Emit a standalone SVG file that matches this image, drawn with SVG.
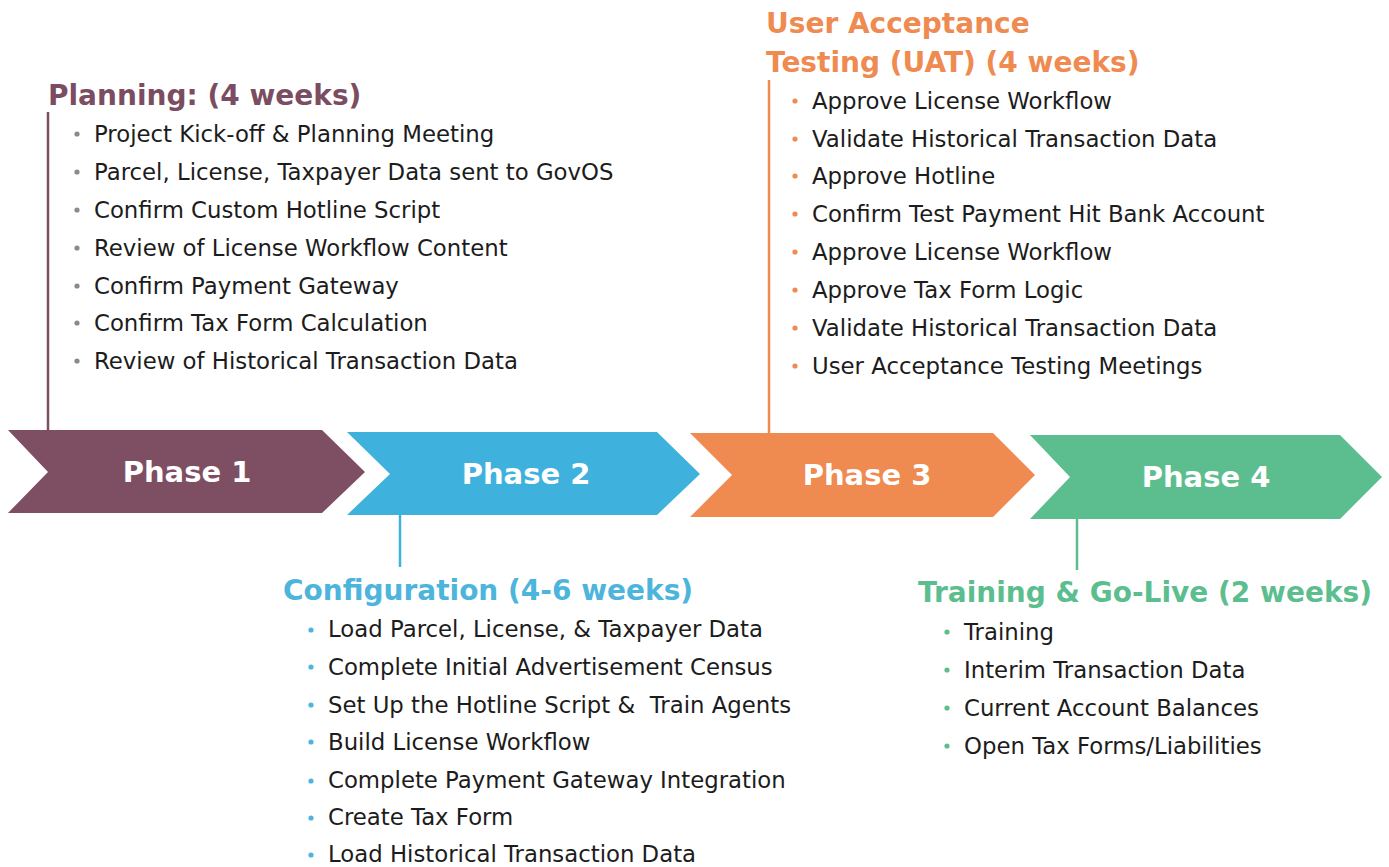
<svg xmlns="http://www.w3.org/2000/svg" width="1389" height="867" viewBox="0 0 1389 867">
<style>
.t{font-family:"DejaVu Sans","Open Sans","Liberation Sans",sans-serif;font-size:22.8px;fill:#1c1c1c}
.h{font-family:"DejaVu Sans","Open Sans","Liberation Sans",sans-serif;font-size:28px;font-weight:700}
.p{font-family:"DejaVu Sans","Open Sans","Liberation Sans",sans-serif;font-size:29px;font-weight:700;fill:#ffffff;text-anchor:middle}
.c1{fill:#7E4E63}.c2{fill:#3FB1DD}.c3{fill:#EF8A51}.c4{fill:#5CBE8E}
.ln{stroke-width:2.5;fill:none}
</style>
<rect width="1389" height="867" fill="#ffffff"/>
<g id="connectors">
<line class="ln" x1="48" y1="112" x2="48" y2="432" stroke="#7E4E63"/>
<line class="ln" x1="400" y1="514" x2="400" y2="567" stroke="#3FB1DD"/>
<line class="ln" x1="769" y1="80" x2="769" y2="435" stroke="#EF8A51"/>
<line class="ln" x1="1077" y1="518" x2="1077" y2="570" stroke="#5CBE8E"/>
</g>
<g id="phase1">
<polygon class="c1" points="8,430 322,430 365,472 322,513 8,513 48,472"/>
<text class="p" x="187" y="482">Phase 1</text>
</g>
<g id="phase2">
<polygon class="c2" points="347,432 657,432 700,474 657,515 347,515 390,474"/>
<text class="p" x="526" y="484">Phase 2</text>
</g>
<g id="phase3">
<polygon class="c3" points="690,433 993,433 1035,475 993,517 690,517 732,475"/>
<text class="p" x="867" y="485">Phase 3</text>
</g>
<g id="phase4">
<polygon class="c4" points="1030,435 1340,435 1382,477 1340,519 1030,519 1070,477"/>
<text class="p" x="1206" y="487">Phase 4</text>
</g>
<g id="planning">
<text class="h" x="48" y="105" fill="#7B4D62">Planning: (4 weeks)</text>
<g fill="#8a8a8a">
<circle cx="77" cy="134" r="2.6"/><circle cx="77" cy="172" r="2.6"/><circle cx="77" cy="210" r="2.6"/><circle cx="77" cy="248" r="2.6"/><circle cx="77" cy="286" r="2.6"/><circle cx="77" cy="323" r="2.6"/><circle cx="77" cy="361" r="2.6"/>
</g>
<text class="t" x="94" y="142">Project Kick-off &amp; Planning Meeting</text>
<text class="t" x="94" y="180">Parcel, License, Taxpayer Data sent to GovOS</text>
<text class="t" x="94" y="218">Confirm Custom Hotline Script</text>
<text class="t" x="94" y="256">Review of License Workflow Content</text>
<text class="t" x="94" y="294">Confirm Payment Gateway</text>
<text class="t" x="94" y="331">Confirm Tax Form Calculation</text>
<text class="t" x="94" y="369">Review of Historical Transaction Data</text>
</g>
<g id="uat">
<text class="h" x="766" y="33" fill="#EF8A51">User Acceptance</text>
<text class="h" x="766" y="72" fill="#EF8A51">Testing (UAT) (4 weeks)</text>
<g fill="#EF8A51">
<circle cx="795" cy="101" r="2.6"/><circle cx="795" cy="139" r="2.6"/><circle cx="795" cy="176" r="2.6"/><circle cx="795" cy="214" r="2.6"/><circle cx="795" cy="252" r="2.6"/><circle cx="795" cy="290" r="2.6"/><circle cx="795" cy="328" r="2.6"/><circle cx="795" cy="366" r="2.6"/>
</g>
<text class="t" x="812" y="109">Approve License Workflow</text>
<text class="t" x="812" y="147">Validate Historical Transaction Data</text>
<text class="t" x="812" y="184">Approve Hotline</text>
<text class="t" x="812" y="222">Confirm Test Payment Hit Bank Account</text>
<text class="t" x="812" y="260">Approve License Workflow</text>
<text class="t" x="812" y="298">Approve Tax Form Logic</text>
<text class="t" x="812" y="336">Validate Historical Transaction Data</text>
<text class="t" x="812" y="374">User Acceptance Testing Meetings</text>
</g>
<g id="configuration">
<text class="h" x="283" y="600" fill="#4DB5DC">Configuration (4-6 weeks)</text>
<g fill="#4DB5DC">
<circle cx="311" cy="630" r="2.6"/><circle cx="311" cy="667" r="2.6"/><circle cx="311" cy="705" r="2.6"/><circle cx="311" cy="742" r="2.6"/><circle cx="311" cy="781" r="2.6"/><circle cx="311" cy="818" r="2.6"/><circle cx="311" cy="855" r="2.6"/>
</g>
<text class="t" x="328" y="637">Load Parcel, License, &amp; Taxpayer Data</text>
<text class="t" x="328" y="675">Complete Initial Advertisement Census</text>
<text class="t" x="328" y="713" xml:space="preserve">Set Up the Hotline Script &amp;  Train Agents</text>
<text class="t" x="328" y="750">Build License Workflow</text>
<text class="t" x="328" y="788">Complete Payment Gateway Integration</text>
<text class="t" x="328" y="825">Create Tax Form</text>
<text class="t" x="328" y="862">Load Historical Transaction Data</text>
</g>
<g id="training">
<text class="h" x="918" y="602" fill="#5CBE8E">Training &amp; Go-Live (2 weeks)</text>
<g fill="#5CBE8E">
<circle cx="947" cy="632" r="2.6"/><circle cx="947" cy="670" r="2.6"/><circle cx="947" cy="708" r="2.6"/><circle cx="947" cy="746" r="2.6"/>
</g>
<text class="t" x="964" y="640">Training</text>
<text class="t" x="964" y="678">Interim Transaction Data</text>
<text class="t" x="964" y="716">Current Account Balances</text>
<text class="t" x="964" y="754">Open Tax Forms/Liabilities</text>
</g>
</svg>
